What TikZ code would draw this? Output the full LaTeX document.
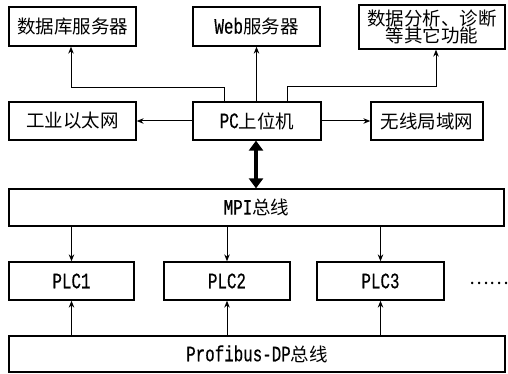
\documentclass[tikz,border=0pt]{standalone}
\usepackage{fontspec}
\setmainfont[FakeStretch=0.72,FakeBold=0.4]{Liberation Mono}
\newfontfamily\cjkfont{Noto Sans CJK SC}
\newcommand{\zh}[1]{{\cjkfont\fontsize{18.5}{19}\selectfont #1}}
\usetikzlibrary{arrows.meta}
\begin{document}
\begin{tikzpicture}[x=1pt,y=-1pt,
  box/.style={draw,line width=1.3pt,inner sep=0pt,font=\fontsize{22}{19}\selectfont,align=center},
  arr/.style={line width=1pt,-{Stealth[length=7pt,width=5.5pt]}},
  bigarr/.style={line width=4.5pt,{Triangle[length=10pt,width=14pt]}-{Triangle[length=10pt,width=14pt]}}]
\useasboundingbox (0,0) rectangle (508,374);
\node[box,minimum width=127pt,minimum height=39pt] (db) at (72.5,26.5) {\zh{数据库服务器}};
\node[box,minimum width=127pt,minimum height=39pt] (web) at (256.5,26.5) {Web\zh{服务器}};
\node[box,minimum width=146pt,minimum height=44pt] (ana) at (432,27) {\zh{数据分析、诊断}\\[-2pt]\zh{等其它功能}};
\node[box,minimum width=127pt,minimum height=38pt] (eth) at (72.5,121) {\zh{工业以太网}};
\node[box,minimum width=128pt,minimum height=38pt] (pc) at (257,121) {PC\zh{上位机}};
\node[box,minimum width=112pt,minimum height=38pt] (wlan) at (427,121) {\zh{无线局域网}};
\node[box,minimum width=495pt,minimum height=37pt] (mpi) at (256.5,207.5) {MPI\zh{总线}};
\node[box,minimum width=125pt,minimum height=38pt] (plc1) at (71.5,281) {PLC1};
\node[box,minimum width=126pt,minimum height=38pt] (plc2) at (227,281) {PLC2};
\node[box,minimum width=127pt,minimum height=38pt] (plc3) at (380.5,281) {PLC3};
\node[box,minimum width=496pt,minimum height=36pt] (pro) at (257,354) {Profibus-DP\zh{总线}};
\node[inner sep=0pt] (dots) at (489.5,283) {\zh{……}};
% top connections
\draw[arr] ([xshift=-33pt]pc.north) |- ([xshift=-1.5pt]db.south |- 0,88) -- ([xshift=-1.5pt]db.south);
\draw[arr] (pc.north -| web.south) -- (web.south);
\draw[arr] ([xshift=30pt]pc.north) |- ([xshift=4pt]ana.south |- 0,87) -- ([xshift=4pt]ana.south);
\draw[arr] (pc.west) -- (eth.east);
\draw[arr] (pc.east) -- (wlan.east -| wlan.west);
\draw[bigarr] ([xshift=-1pt]pc.south) -- ([xshift=-1pt]pc.south |- mpi.north);
% MPI to PLCs
\draw[arr] (plc1.north |- mpi.south) -- (plc1.north);
\draw[arr] (plc2.north |- mpi.south) -- (plc2.north);
\draw[arr] (plc3.north |- mpi.south) -- (plc3.north);
% Profibus to PLCs
\draw[arr] (plc1.south |- pro.north) -- (plc1.south);
\draw[arr] (plc2.south |- pro.north) -- (plc2.south);
\draw[arr] (plc3.south |- pro.north) -- (plc3.south);
\end{tikzpicture}
\end{document}
